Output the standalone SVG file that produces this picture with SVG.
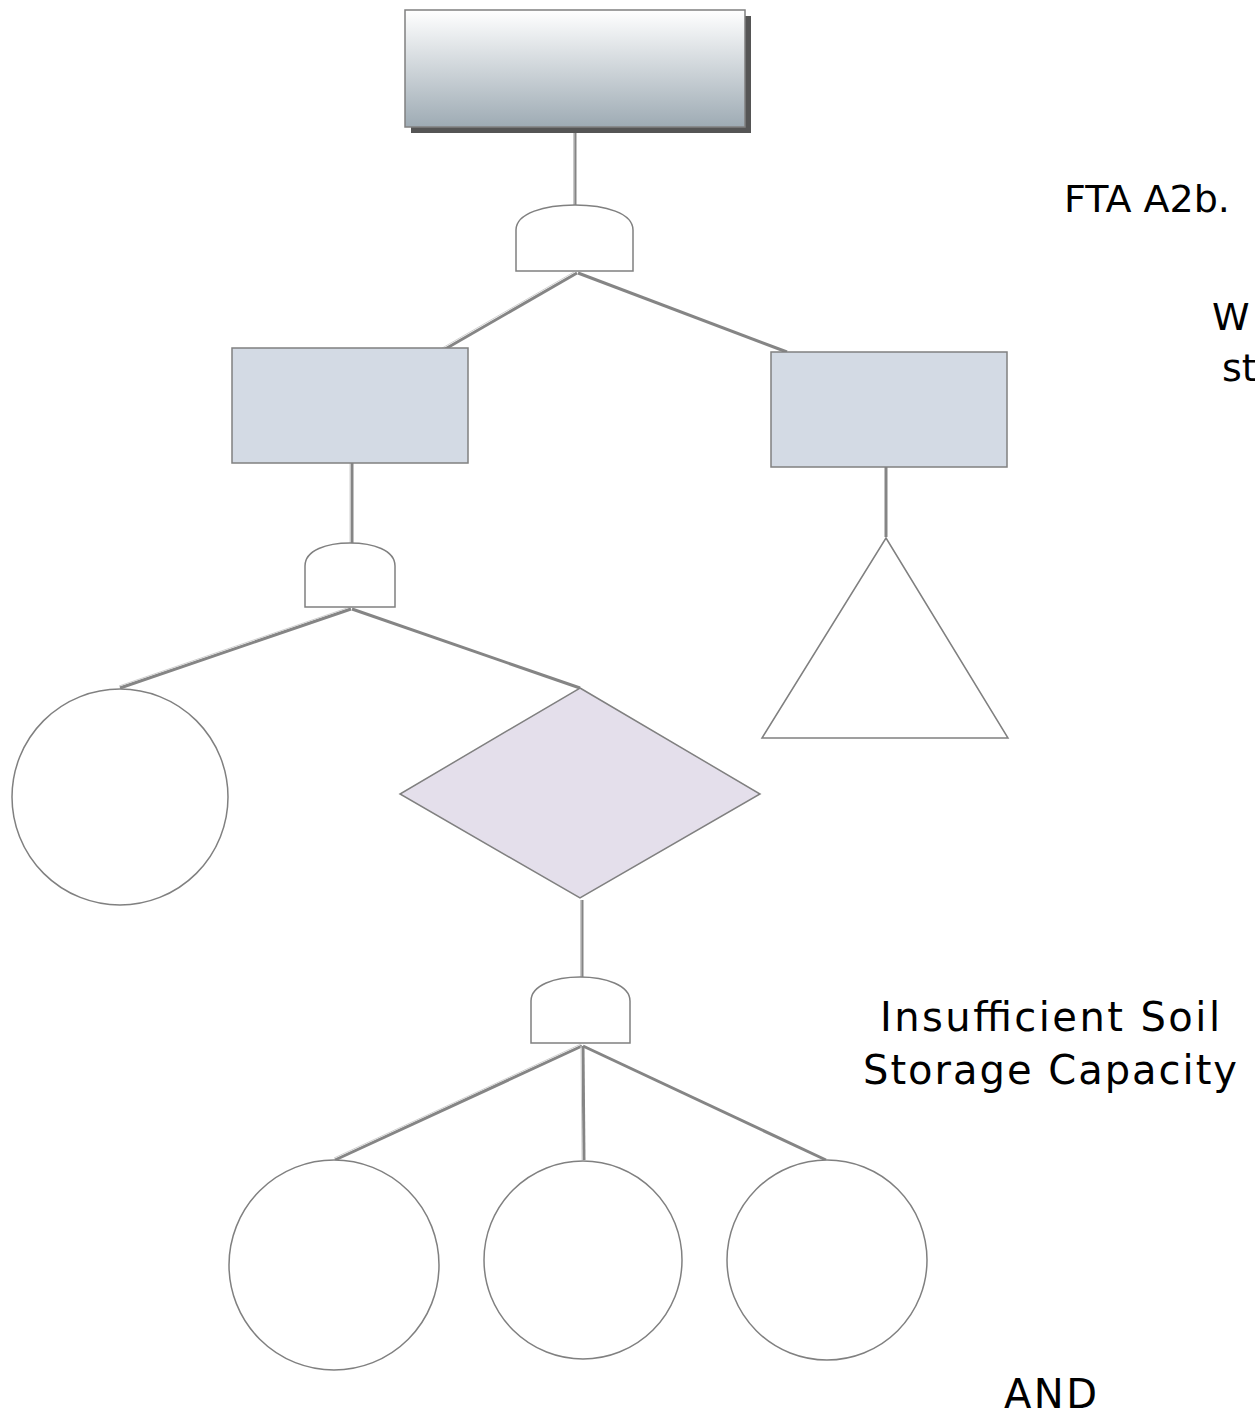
<svg xmlns="http://www.w3.org/2000/svg" width="1255" height="1416" viewBox="0 0 1255 1416">
<defs>
<linearGradient id="topg" x1="0" y1="0" x2="0" y2="1">
<stop offset="0" stop-color="#ffffff"/>
<stop offset="1" stop-color="#9eabb4"/>
</linearGradient>
</defs>
<style>
.ln{stroke:#858585;stroke-width:3;fill:none}
.lh{stroke:#d0d0d0;stroke-width:1;fill:none}
.sh{stroke:#808080;stroke-width:1.5}
.box{fill:#d3dae4}
.gate{fill:#ffffff}
.ev{fill:#ffffff}
.txt{font-family:"DejaVu Sans",Verdana,sans-serif;font-size:38px;fill:#000}
.big{font-size:40px}
</style>
<rect width="1255" height="1416" fill="#ffffff"/>
<g id="connectors">
<line class="ln" x1="575" y1="127" x2="575" y2="205"/>
<line class="lh" x1="574" y1="127" x2="574" y2="205"/>
<line class="ln" x1="577" y1="273" x2="440" y2="352"/>
<line class="lh" x1="574" y1="272" x2="437" y2="351"/>
<line class="ln" x1="578" y1="273" x2="787" y2="352"/>
<line class="ln" x1="352" y1="463" x2="352" y2="543"/>
<line class="lh" x1="350" y1="463" x2="350" y2="543"/>
<line class="ln" x1="351" y1="609" x2="120" y2="688"/>
<line class="lh" x1="350" y1="607" x2="119" y2="686"/>
<line class="ln" x1="352" y1="609" x2="580" y2="688"/>
<line class="ln" x1="886" y1="467" x2="886" y2="537"/>
<line class="ln" x1="582" y1="900" x2="582" y2="977"/>
<line class="lh" x1="581" y1="900" x2="581" y2="977"/>
<line class="ln" x1="582" y1="1046" x2="335" y2="1160"/>
<line class="lh" x1="581" y1="1044" x2="334" y2="1158"/>
<line class="ln" x1="583" y1="1046" x2="584" y2="1160"/>
<line class="lh" x1="581" y1="1046" x2="582" y2="1160"/>
<line class="ln" x1="583" y1="1046" x2="826" y2="1160"/>
</g>
<g id="top-event">
<rect x="411" y="16" width="340" height="117" fill="#555555"/>
<rect class="sh" x="405" y="10" width="340" height="117" fill="url(#topg)"/>
</g>
<g id="gate1">
<path class="gate sh" d="M516,271 V230 C516,213 545,205 575,205 C605,205 633,213 633,230 V271 Z"/>
</g>
<g id="event-left">
<rect class="box sh" x="232" y="348" width="236" height="115"/>
</g>
<g id="event-right">
<rect class="box sh" x="771" y="352" width="236" height="115"/>
</g>
<g id="gate2">
<path class="gate sh" d="M305,607 V566 C305,550 327,543 350,543 C373,543 395,550 395,566 V607 Z"/>
</g>
<g id="basic-left">
<circle class="ev sh" cx="120" cy="797" r="108"/>
</g>
<g id="undeveloped">
<polygon class="sh" points="580,688 760,794 580,898 400,794" fill="#e4dfeb"/>
</g>
<g id="transfer">
<polygon class="ev sh" points="886,538 1008,738 762,738"/>
</g>
<g id="gate3">
<path class="gate sh" d="M531,1043 V1001 C531,985 555,977 580,977 C605,977 630,985 630,1001 V1043 Z"/>
</g>
<g id="basic-1">
<circle class="ev sh" cx="334" cy="1265" r="105"/>
</g>
<g id="basic-2">
<circle class="ev sh" cx="583" cy="1260" r="99"/>
</g>
<g id="basic-3">
<circle class="ev sh" cx="827" cy="1260" r="100"/>
</g>
<g id="labels">
<text class="txt" x="1064" y="212">FTA A2b.</text>
<text class="txt" x="1212" y="330">W</text>
<text class="txt" x="1222" y="381">st</text>
<text class="txt big" x="880" y="1031" textLength="340" lengthAdjust="spacing">Insufficient Soil</text>
<text class="txt big" x="863" y="1084" textLength="374" lengthAdjust="spacing">Storage Capacity</text>
<text class="txt big" x="1004" y="1408" textLength="93" lengthAdjust="spacing">AND</text>
</g>
</svg>
